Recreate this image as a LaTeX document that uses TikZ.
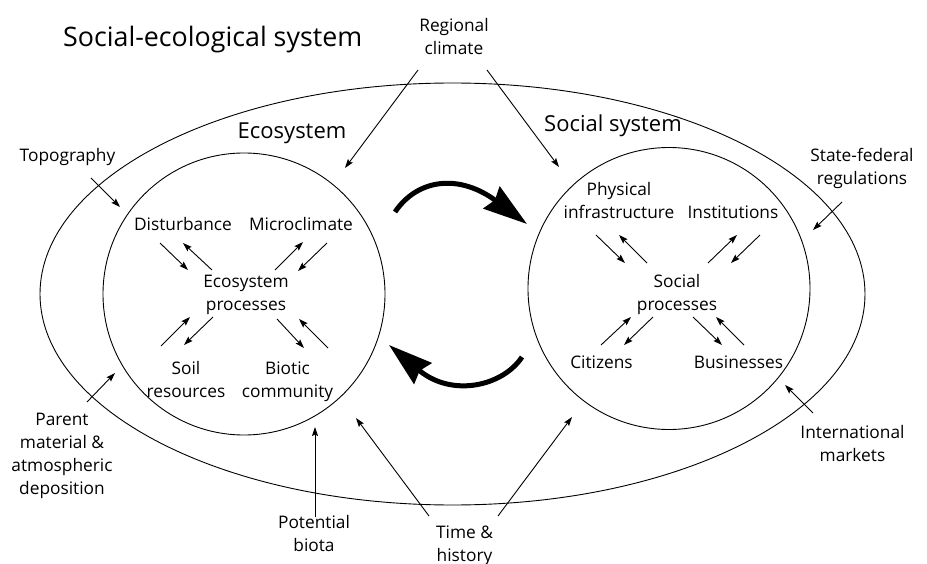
\documentclass[tikz,border=0pt]{standalone}
\usepackage{fontspec}
\setmainfont{Open Sans}
\usetikzlibrary{arrows.meta,shapes.geometric}
\begin{document}
\begin{tikzpicture}[x=1pt,y=-1pt,
  lbl/.style={align=center, font=\fontsize{17.3}{23}\selectfont, inner sep=0pt, anchor=base},
  sub/.style={font=\fontsize{22}{26}\selectfont, inner sep=0pt, anchor=base},
  ring/.style={draw, line width=0.9pt, inner sep=0pt},
  sa/.style={line width=0.9pt, -{Stealth[length=9pt,width=6pt,inset=1.5pt]}},
  big/.style={line width=5pt, -{Stealth[length=44pt,width=27pt,inset=4pt]}}
]
\useasboundingbox (0,0) rectangle (927,564);

% enclosures
\node[ring, ellipse, minimum width=825, minimum height=422] (ses) at (452.5,294) {};
\node[ring, circle, minimum size=282] (eco) at (244,294) {};
\node[ring, circle, minimum size=282] (soc) at (669,288.5) {};

% titles (base anchor = baseline of the last line)
\node[font=\fontsize{26.8}{31}\selectfont, inner sep=0pt, anchor=base west] (title) at (63,47) {Social-ecological system};
\node[sub] (ecot) at (292,139) {Ecosystem};
\node[sub] (soct) at (613,132) {Social system};

% outside drivers
\node[lbl] (rc) at (454,55) {Regional\\climate};
\node[lbl] (topo) at (67.5,162) {Topography};
\node[lbl] (sfr) at (862,185) {State-federal\\regulations};
\node[lbl] (pm) at (62,494) {Parent\\material \&\\atmospheric\\deposition};
\node[lbl] (pb) at (314,551) {Potential\\biota};
\node[lbl] (th) at (464.5,561) {Time \&\\history};
\node[lbl] (im) at (852.5,461) {International\\markets};

% ecosystem contents
\node[lbl] (dist) at (183,231) {Disturbance};
\node[lbl] (micro) at (301,231) {Microclimate};
\node[lbl] (ep) at (246,311) {Ecosystem\\processes};
\node[lbl] (soil) at (186,397) {Soil\\resources};
\node[lbl] (biot) at (287.5,397) {Biotic\\community};

% social contents
\node[lbl] (phys) at (619,219) {Physical\\infrastructure};
\node[lbl] (inst) at (733,219) {Institutions};
\node[lbl] (sp) at (677,310) {Social\\processes};
\node[lbl] (cit) at (601.5,368) {Citizens};
\node[lbl] (bus) at (738.5,368) {Businesses};

% connector end points
\coordinate (a1s) at (160,243); \coordinate (a1e) at (188,270);
\coordinate (a2s) at (212,270); \coordinate (a2e) at (183,243);
\coordinate (a3s) at (275,270); \coordinate (a3e) at (303,242);
\coordinate (a4s) at (327,243); \coordinate (a4e) at (298,271);
\coordinate (a5s) at (161,346); \coordinate (a5e) at (190,317);
\coordinate (a6s) at (213,317); \coordinate (a6e) at (184,345);
\coordinate (a7s) at (277,319); \coordinate (a7e) at (304,348);
\coordinate (a8s) at (328,348); \coordinate (a8e) at (299,319);
\coordinate (b1s) at (596,235); \coordinate (b1e) at (625,263);
\coordinate (b2s) at (647,263); \coordinate (b2e) at (619,235);
\coordinate (b3s) at (708,263); \coordinate (b3e) at (737,235);
\coordinate (b4s) at (760,235); \coordinate (b4e) at (731,263);
\coordinate (b5s) at (601,345); \coordinate (b5e) at (631,317);
\coordinate (b6s) at (653,317); \coordinate (b6e) at (624,345);
\coordinate (b7s) at (693,317); \coordinate (b7e) at (722,345);
\coordinate (b8s) at (744,345); \coordinate (b8e) at (716,317);
\coordinate (c1s) at (418,70);  \coordinate (c1e) at (345,168);
\coordinate (c2s) at (487,70);  \coordinate (c2e) at (559,167);
\coordinate (c3s) at (91,178);  \coordinate (c3e) at (120,207);
\coordinate (c4s) at (842,202); \coordinate (c4e) at (813,230);
\coordinate (c5s) at (87,402);  \coordinate (c5e) at (115,373);
\coordinate (c6s) at (315,517); \coordinate (c6e) at (315,427);
\coordinate (c7s) at (429,516); \coordinate (c7e) at (356,418);
\coordinate (c8s) at (498,516); \coordinate (c8e) at (572,417);
\coordinate (c9s) at (813,413); \coordinate (c9e) at (785,385);
\coordinate (g1s) at (395,212); \coordinate (g1e) at (527,224);
\coordinate (g2s) at (522,357); \coordinate (g2e) at (389,345);

% small arrows
\foreach \p in {a1,a2,a3,a4,a5,a6,a7,a8,b1,b2,b3,b4,b5,b6,b7,b8,c1,c2,c3,c4,c5,c6,c7,c8,c9}
  \draw[sa] (\p s) -- (\p e);

% big feedback arrows
\draw[big] (g1s) .. controls (418,178) and (460,174) .. (g1e);
\draw[big] (g2s) .. controls (503,386) and (452,398) .. (g2e);
\end{tikzpicture}
\end{document}
